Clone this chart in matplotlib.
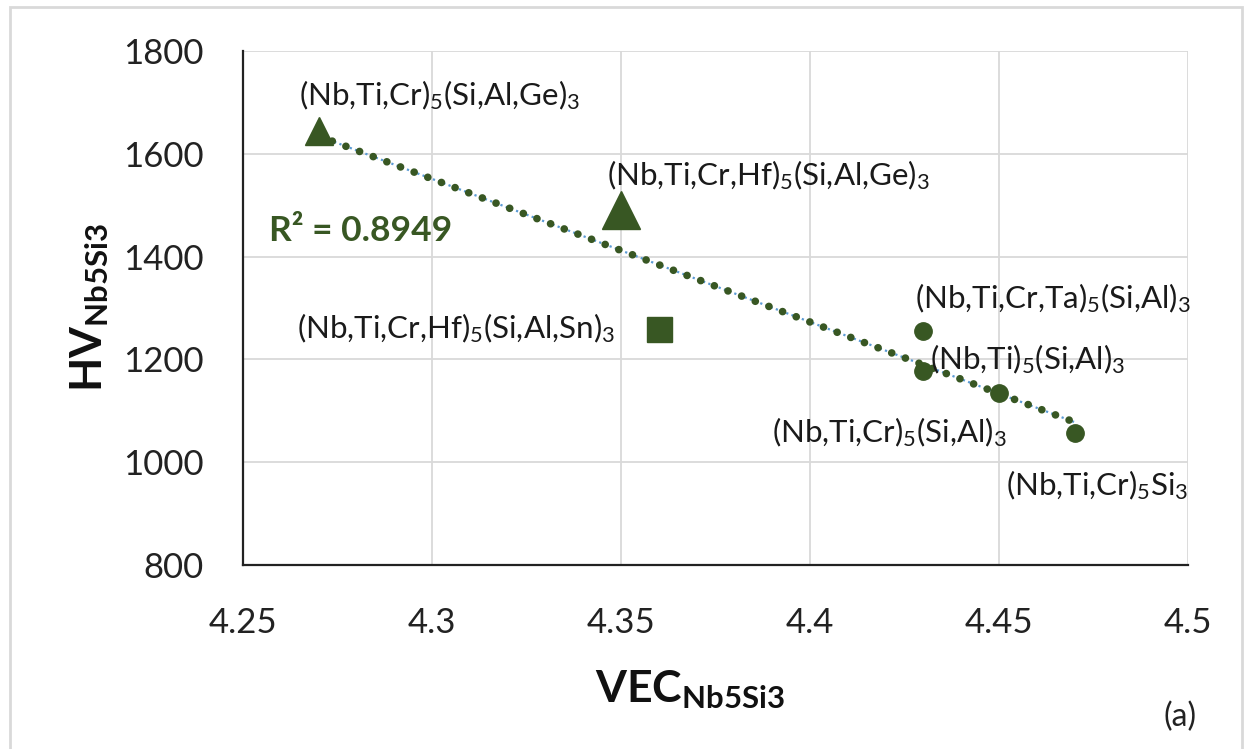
import matplotlib
matplotlib.use("Agg")
import matplotlib.pyplot as plt
from matplotlib.patches import Rectangle
import numpy as np

# Data
vec = [4.27, 4.35, 4.36, 4.43, 4.43, 4.45, 4.47]
hv = [1645, 1490, 1260, 1256, 1178, 1135, 1057]
phases = [
    '(Nb,Ti,Cr)$_5$(Si,Al,Ge)$_3$',
    '(Nb,Ti,Cr,Hf)$_5$(Si,Al,Ge)$_3$',
    '(Nb,Ti,Cr,Hf)$_5$(Si,Al,Sn)$_3$',
    '(Nb,Ti,Cr,Ta)$_5$(Si,Al)$_3$',
    '(Nb,Ti)$_5$(Si,Al)$_3$',
    '(Nb,Ti,Cr)$_5$(Si,Al)$_3$',
    '(Nb,Ti,Cr)$_5$Si$_3$',
]
x_ticks = [4.25, 4.3, 4.35, 4.4, 4.45, 4.5]
x_tick_labels = ['4.25', '4.3', '4.35', '4.4', '4.45', '4.5']
y_ticks = [800, 1000, 1200, 1400, 1600, 1800]

GREEN = '#385723'
plt.rcParams['font.family'] = ['Lato', 'DejaVu Sans']
plt.rcParams['mathtext.fontset'] = 'custom'
plt.rcParams['mathtext.rm'] = 'Lato'
plt.rcParams['mathtext.it'] = 'Lato'
plt.rcParams['mathtext.bf'] = 'Lato:bold'

fig = plt.figure(figsize=(12.5, 7.49), dpi=100)
ax = fig.add_axes([243 / 1250, 1 - 565 / 749, (1188 - 243) / 1250, (565 - 51) / 749])

# outer frame of the picture
fig.patches.append(Rectangle((10 / 1250, -0.02), 1232 / 1250, 1.02 - 7 / 749,
                             transform=fig.transFigure, fill=False,
                             edgecolor='#d9d9d9', linewidth=2))

# markers: two triangles, one square, circles for the rest
ax.plot(vec[0], hv[0], marker='^', ms=20, color=GREEN, ls='none', zorder=4)
ax.plot(vec[1], hv[1], marker='^', ms=27, color=GREEN, ls='none', zorder=4)
ax.plot(vec[2], hv[2], marker='s', ms=18, color=GREEN, ls='none', zorder=4)
ax.plot(vec[3:], hv[3:], marker='o', ms=12.5, color=GREEN, ls='none', zorder=4)

# linear trendline over all points
coef = np.polyfit(vec, hv, 1)
xt = np.array([min(vec), max(vec)])
yt = np.polyval(coef, xt)
ax.plot(xt, yt, color='#5b9bd5', lw=1.6, ls=(0, (1, 1.5)), zorder=3)
ax.plot(xt, yt, color=GREEN, lw=5.5, ls=(0, (0.01, 1.9)), dash_capstyle='round', zorder=3)

ax.text(4.257, 1450, 'R² = 0.8949', color=GREEN, fontsize=25.5, fontweight='bold',
        ha='left', va='center')

# point labels (offsets in pixels, ha)
offsets = [(-20, 35, 'left'), (-14, 35, 'left'), (-44, 0, 'right'),
           (-8, 32, 'left'), (7, 12, 'left'), (8, -39, 'right'), (-69, -52, 'left')]
for x, y, name, (dx, dy, ha) in zip(vec, hv, phases, offsets):
    ax.annotate(name, (x, y), xytext=(dx, dy), textcoords='offset pixels',
                ha=ha, va='center', fontsize=22.5, color='#1a1a1a', zorder=5)

ax.set_xlim(4.25, 4.5)
ax.set_ylim(800, 1800)
ax.set_xticks(x_ticks)
ax.set_xticklabels(x_tick_labels)
ax.set_yticks(y_ticks)
ax.tick_params(length=0, labelsize=25, colors='#222222')
ax.tick_params(axis='y', pad=28)
ax.tick_params(axis='x', pad=30)
ax.grid(True, color='#d9d9d9', lw=1.3)
ax.set_axisbelow(True)
for s in ['top', 'right']:
    ax.spines[s].set_visible(False)
for s in ['left', 'bottom']:
    ax.spines[s].set_color('#222222')
    ax.spines[s].set_linewidth(1.6)

fig.text(90 / 1250, 1 - 308 / 749, r'$\mathbf{HV}_{\mathbf{Nb5Si3}}$', rotation=90,
         ha='center', va='center', fontsize=32, color='#111111')
fig.text(690 / 1250, 1 - 690 / 749, r'$\mathbf{VEC}_{\mathbf{Nb5Si3}}$',
         ha='center', va='center', fontsize=32, color='#111111')
fig.text(1180 / 1250, 1 - 717 / 749, '(a)', ha='center', va='center',
         fontsize=23, color='#222222')

fig.savefig('out.png', dpi=100, facecolor='white')
